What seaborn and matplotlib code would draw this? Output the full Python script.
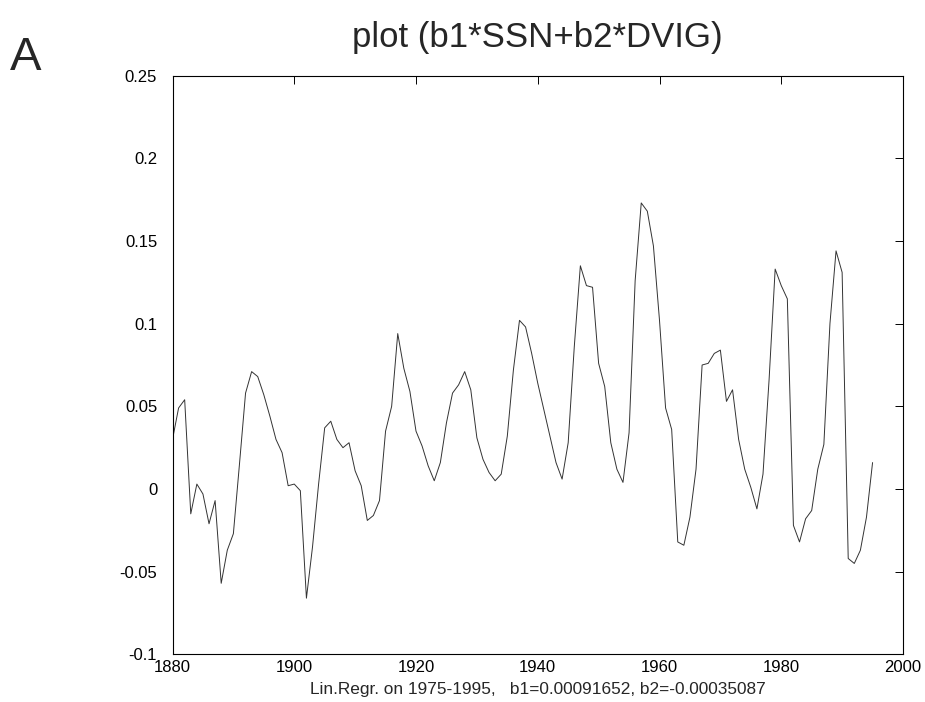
import matplotlib
matplotlib.use("Agg")
import matplotlib.pyplot as plt
import seaborn as sns
import pandas as pd

years = list(range(1880, 1996))
values = [
    0.030, 0.049, 0.054, -0.015, 0.003, -0.003, -0.021, -0.007, -0.057, -0.037,  # 1880-1889
    -0.027, 0.015, 0.058, 0.071, 0.068, 0.057, 0.044, 0.030, 0.022, 0.002,       # 1890-1899
    0.003, -0.001, -0.066, -0.035, 0.003, 0.037, 0.041, 0.030, 0.025, 0.028,      # 1900-1909
    0.011, 0.002, -0.019, -0.016, -0.007, 0.035, 0.050, 0.094, 0.073, 0.059,      # 1910-1919
    0.035, 0.026, 0.014, 0.005, 0.016, 0.040, 0.058, 0.063, 0.071, 0.060,         # 1920-1929
    0.031, 0.018, 0.010, 0.005, 0.009, 0.032, 0.072, 0.102, 0.098, 0.082,         # 1930-1939
    0.064, 0.048, 0.032, 0.016, 0.006, 0.028, 0.086, 0.135, 0.123, 0.122,         # 1940-1949
    0.076, 0.062, 0.028, 0.012, 0.004, 0.034, 0.126, 0.173, 0.168, 0.147,         # 1950-1959
    0.102, 0.049, 0.036, -0.032, -0.034, -0.017, 0.012, 0.075, 0.076, 0.082,      # 1960-1969
    0.084, 0.053, 0.060, 0.030, 0.012, 0.001, -0.012, 0.009, 0.066, 0.133,        # 1970-1979
    0.123, 0.115, -0.022, -0.032, -0.018, -0.013, 0.012, 0.027, 0.100, 0.144,     # 1980-1989
    0.131, -0.042, -0.045, -0.037, -0.017, 0.016,                                 # 1990-1995
]

x_ticks = [1880, 1900, 1920, 1940, 1960, 1980, 2000]
y_ticks = [-0.1, -0.05, 0, 0.05, 0.1, 0.15, 0.2, 0.25]
y_tick_labels = ["-0.1", "-0.05", "0", "0.05", "0.1", "0.15", "0.2", "0.25"]

title_text = "plot (b1*SSN+b2*DVIG)"
xlabel_text = "Lin.Regr. on 1975-1995,   b1=0.00091652, b2=-0.00035087"
panel_label = "A"

sns.set_style("white")
plt.rcParams["font.family"] = ["Liberation Sans", "DejaVu Sans"]

df = pd.DataFrame({"year": years, "value": values})

W, H = 925, 702
fig = plt.figure(figsize=(W / 100, H / 100), dpi=100)
left, right, top, bottom = 172.5, 903, 75.6, 654.4
ax = fig.add_axes([left / W, 1 - bottom / H, (right - left) / W, (bottom - top) / H])

sns.lineplot(data=df, x="year", y="value", ax=ax, color="#333333", linewidth=0.7)

ax.set_xlim(1880, 2000)
ax.set_ylim(-0.1, 0.25)
ax.set_xticks(x_ticks)
ax.set_xticklabels([str(t) for t in x_ticks])
ax.set_yticks(y_ticks)
ax.set_yticklabels(y_tick_labels)
ax.tick_params(direction="in", length=6, width=0.7, colors="black",
               labelsize=12, top=True, right=True)
ax.tick_params(axis="x", pad=4)
ax.tick_params(axis="y", pad=11)
for sp in ax.spines.values():
    sp.set_visible(True)
    sp.set_color("black")
    sp.set_linewidth(0.8)
ax.set_ylabel("")
ax.set_xlabel(xlabel_text, fontsize=12.4, labelpad=5)

fig.text(537.5 / W, 1 - 37 / H, title_text, ha="center", va="center", fontsize=25)
fig.text(10 / W, 1 - 58 / H, panel_label, ha="left", va="center", fontsize=34)

fig.savefig("out.png", dpi=100, facecolor="white")
